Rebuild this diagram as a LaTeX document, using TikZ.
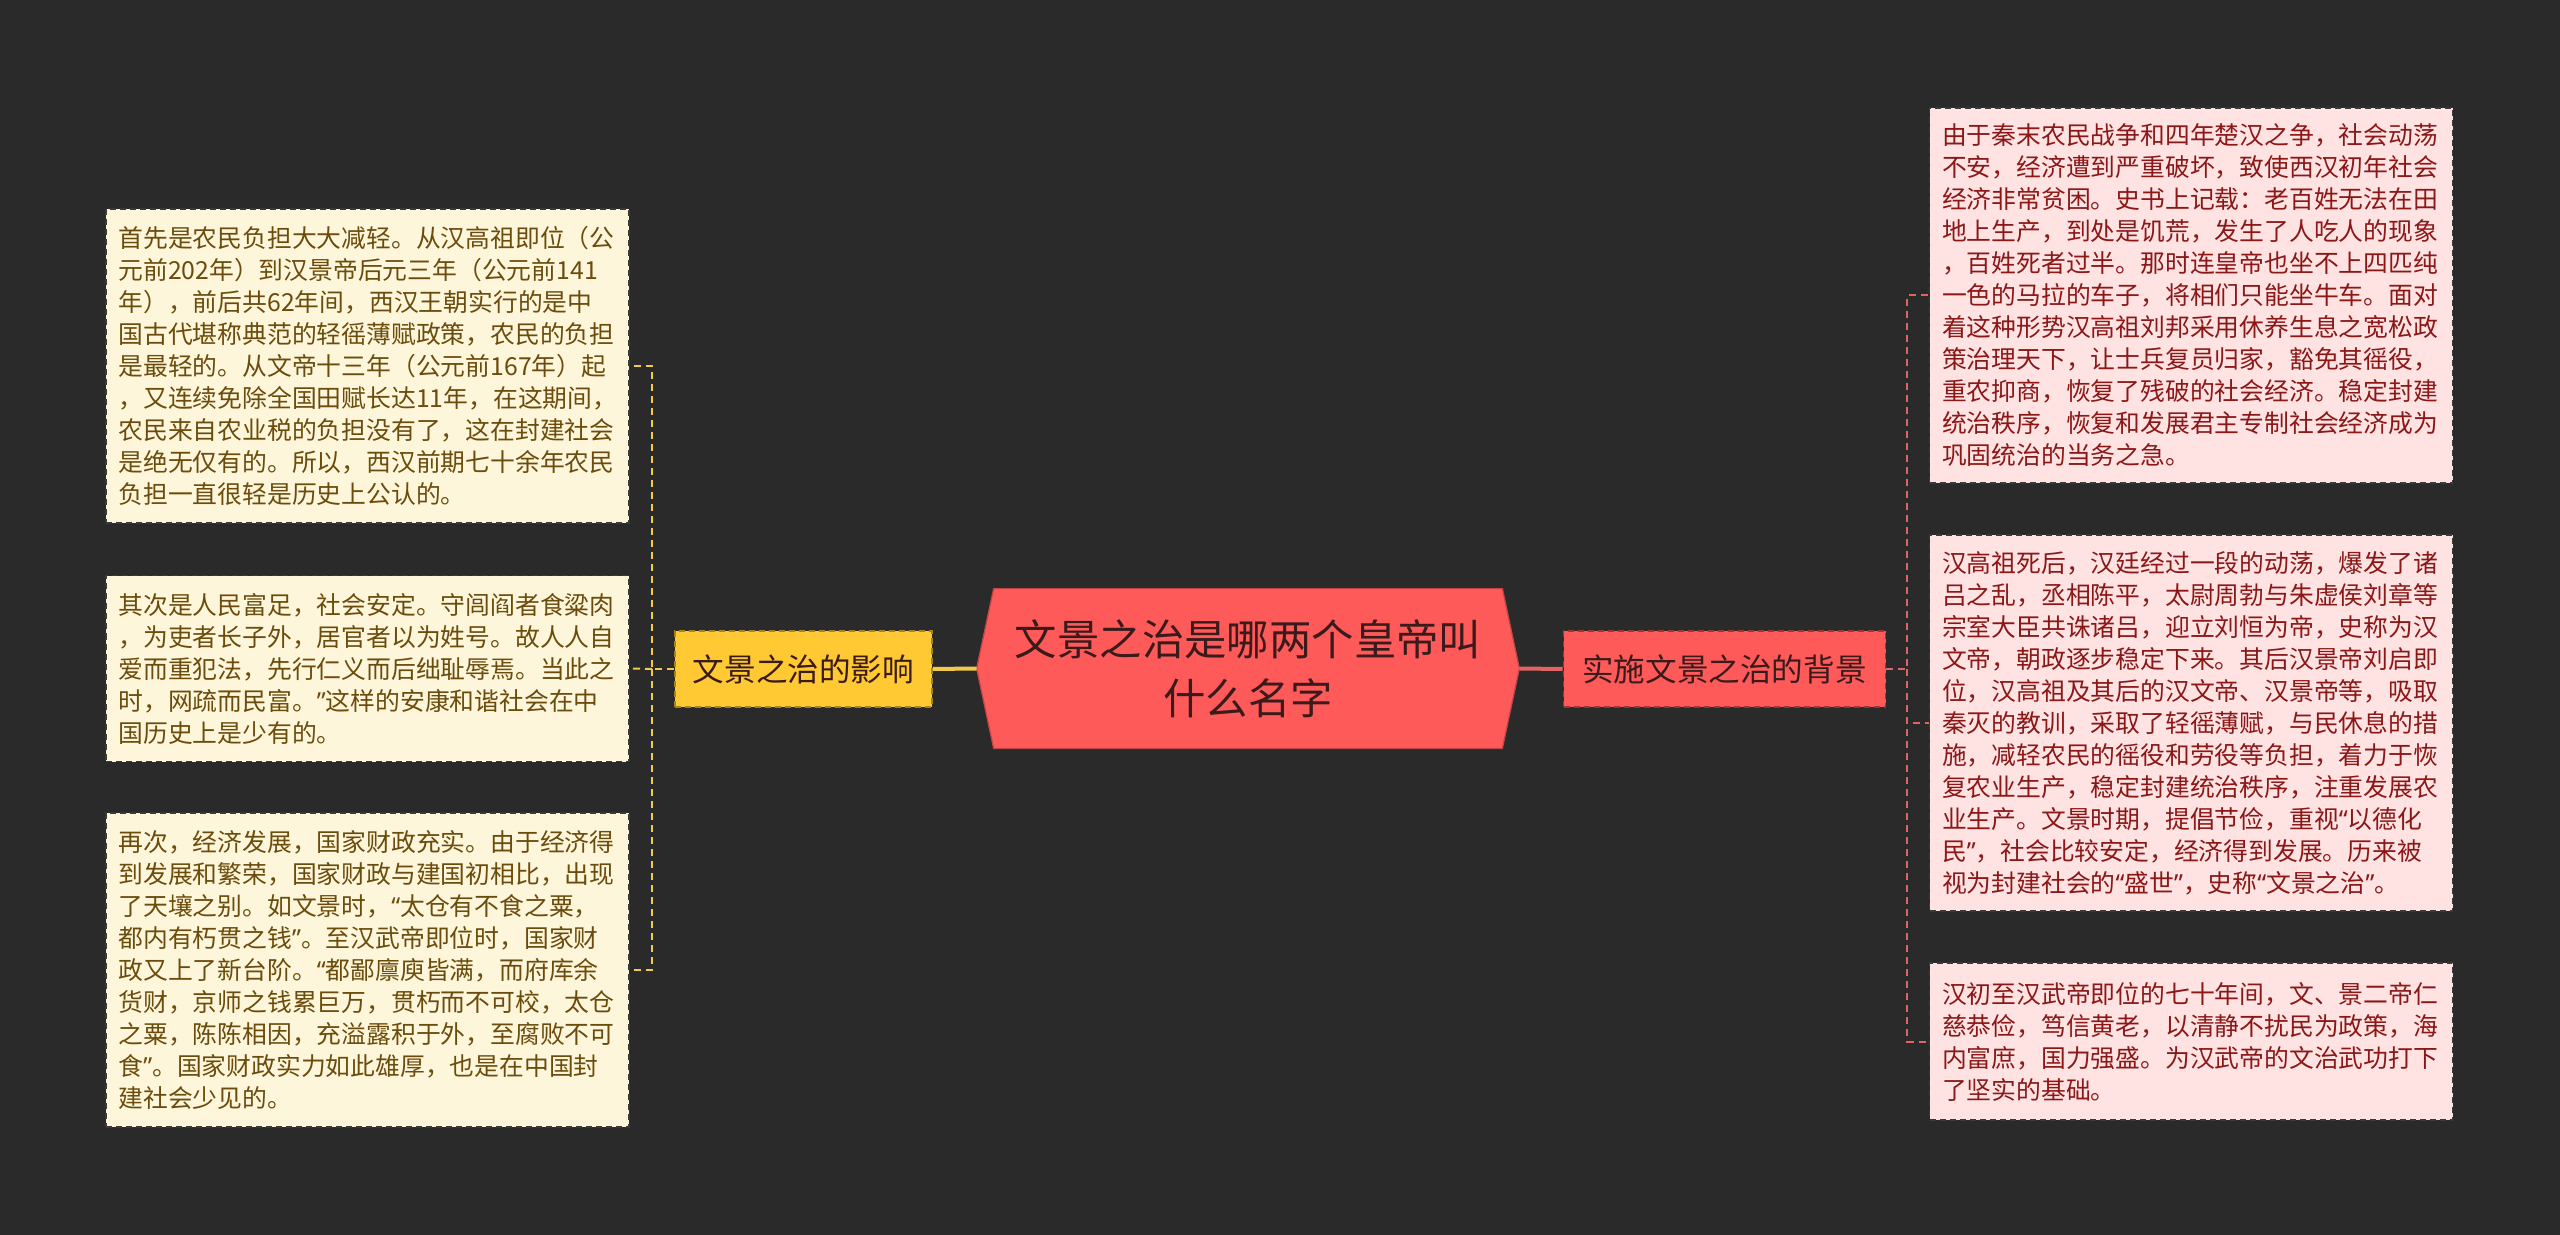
\documentclass[tikz,border=0pt]{standalone}
\usepackage{fontspec}
\newfontfamily\cjk{Noto Sans CJK SC}
\newfontfamily\qfont{Noto Sans}
\newcommand\oq{{\qfont “}}
\newcommand\cq{{\qfont ”}}
\usetikzlibrary{backgrounds}
\definecolor{bgc}{HTML}{2A2A2A}
\definecolor{lfill}{HTML}{FEF6DA}
\definecolor{ltext}{HTML}{6B4C0C}
\definecolor{rfill}{HTML}{FFE3E3}
\definecolor{rtext}{HTML}{8B1717}
\definecolor{yfill}{HTML}{FFC933}
\definecolor{yline}{HTML}{F2C94C}
\definecolor{redfill}{HTML}{FF5A5A}
\definecolor{redline}{HTML}{E06464}
\definecolor{darktext}{HTML}{3A1A1A}
\definecolor{boxborder}{HTML}{3A3A3A}
\tikzset{
  leaf/.style={draw=boxborder, line width=0.8pt, dash pattern=on 3pt off 2pt,
    minimum width=261.5pt, text width=249pt, inner xsep=6.25pt, align=left,
    font=\cjk\fontsize{12.4}{16}\selectfont},
  lleaf/.style={leaf, fill=lfill, text=ltext},
  rleaf/.style={leaf, fill=rfill, text=rtext},
  branchnode/.style={minimum height=38pt, inner sep=0pt, align=center,
    font=\cjk\fontsize{15.8}{19}\selectfont, text=darktext, line width=0.8pt,
    dash pattern=on 3pt off 2pt},
  ylink/.style={draw=yline, line width=1pt, dash pattern=on 3.5pt off 2.5pt},
  rlink/.style={draw=redline, line width=1pt, dash pattern=on 3.5pt off 2.5pt},
}
\begin{document}
\begin{tikzpicture}[x=0.5pt,y=-0.5pt]
\useasboundingbox (0,0) rectangle (2560,1235);

% central node
\node[minimum width=254pt, minimum height=79.5pt, inner sep=0pt, align=center,
  text=darktext, font=\cjk\fontsize{21.2}{29.5}\selectfont] (c) at (1248,668.5)
  {文景之治是哪两个皇帝叫\\什么名字};
\coordinate (cl) at ([xshift=-8.5pt]c.west);
\coordinate (cr) at ([xshift=8.5pt]c.east);

\begin{scope}[on background layer]
  \fill[bgc] (0,0) rectangle (2560,1235);
  \filldraw[fill=redfill, draw=redfill!75!black, line width=0.6pt]
    (c.north west) -- (c.north east) -- (cr) -- (c.south east)
    -- (c.south west) -- (cl) -- cycle;
\end{scope}

% branch nodes
\node[branchnode, fill=yfill, draw=yfill!65!black, minimum width=128.5pt] (yl) at (803.5,669) {文景之治的影响};
\node[branchnode, fill=redfill, draw=redfill!60!black, minimum width=161pt] (rd) at (1724.5,669) {实施文景之治的背景};

% left leaves
\node[lleaf, minimum height=157pt] (lb1) at (367.5,366) {首先是农民负担大大减轻。从汉高祖即位（公\\元前202年）到汉景帝后元三年（公元前141\\年），前后共62年间，西汉王朝实行的是中\\国古代堪称典范的轻徭薄赋政策，农民的负担\\是最轻的。从文帝十三年（公元前167年）起\\，又连续免除全国田赋长达11年，在这期间，\\农民来自农业税的负担没有了，这在封建社会\\是绝无仅有的。所以，西汉前期七十余年农民\\负担一直很轻是历史上公认的。};
\node[lleaf, minimum height=93pt] (lb2) at (367.5,668.5) {其次是人民富足，社会安定。守闾阎者食粱肉\\，为吏者长子外，居官者以为姓号。故人人自\\爱而重犯法，先行仁义而后绌耻辱焉。当此之\\时，网疏而民富。\cq 这样的安康和谐社会在中\\国历史上是少有的。};
\node[lleaf, minimum height=157pt] (lb3) at (367.5,970) {再次，经济发展，国家财政充实。由于经济得\\到发展和繁荣，国家财政与建国初相比，出现\\了天壤之别。如文景时，\oq 太仓有不食之粟，\\都内有朽贯之钱\cq 。至汉武帝即位时，国家财\\政又上了新台阶。\oq 都鄙廪庾皆满，而府库余\\货财，京师之钱累巨万，贯朽而不可校，太仓\\之粟，陈陈相因，充溢露积于外，至腐败不可\\食\cq 。国家财政实力如此雄厚，也是在中国封\\建社会少见的。};

% right leaves
\node[rleaf, minimum height=187.5pt] (rb1) at (2191,295.5) {由于秦末农民战争和四年楚汉之争，社会动荡\\不安，经济遭到严重破坏，致使西汉初年社会\\经济非常贫困。史书上记载：老百姓无法在田\\地上生产，到处是饥荒，发生了人吃人的现象\\，百姓死者过半。那时连皇帝也坐不上四匹纯\\一色的马拉的车子，将相们只能坐牛车。面对\\着这种形势汉高祖刘邦采用休养生息之宽松政\\策治理天下，让士兵复员归家，豁免其徭役，\\重农抑商，恢复了残破的社会经济。稳定封建\\统治秩序，恢复和发展君主专制社会经济成为\\巩固统治的当务之急。};
\node[rleaf, minimum height=188pt] (rb2) at (2191,723) {汉高祖死后，汉廷经过一段的动荡，爆发了诸\\吕之乱，丞相陈平，太尉周勃与朱虚侯刘章等\\宗室大臣共诛诸吕，迎立刘恒为帝，史称为汉\\文帝，朝政逐步稳定下来。其后汉景帝刘启即\\位，汉高祖及其后的汉文帝、汉景帝等，吸取\\秦灭的教训，采取了轻徭薄赋，与民休息的措\\施，减轻农民的徭役和劳役等负担，着力于恢\\复农业生产，稳定封建统治秩序，注重发展农\\业生产。文景时期，提倡节俭，重视\oq 以德化\\民\cq ，社会比较安定，经济得到发展。历来被\\视为封建社会的\oq 盛世\cq ，史称\oq 文景之治\cq 。};
\node[rleaf, minimum height=78.5pt] (rb3) at (2191,1041.5) {汉初至汉武帝即位的七十年间，文、景二帝仁\\慈恭俭，笃信黄老，以清静不扰民为政策，海\\内富庶，国力强盛。为汉武帝的文治武功打下\\了坚实的基础。};

% trunk coordinates
\coordinate (lt) at (652,669);
\coordinate (rt) at (1907,669);

% connectors
\draw[draw=yline, line width=2pt] (cl) -- (yl.east);
\draw[draw=redline, line width=2pt] (cr) -- (rd.west);
\draw[ylink] (yl.west) -- (lt) |- (lb1.east);
\draw[ylink] (lt) -- (lb2.east);
\draw[ylink] (lt) |- (lb3.east);
\draw[rlink] (rd.east) -- (rt) |- (rb1.west);
\draw[rlink] (rt) |- (rb2.west);
\draw[rlink] (rt) |- (rb3.west);
\end{tikzpicture}
\end{document}
